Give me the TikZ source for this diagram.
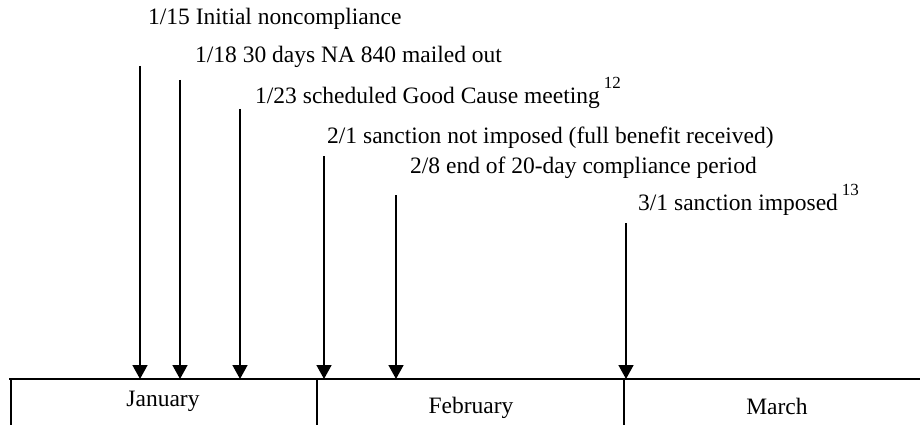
\documentclass[tikz,border=0pt]{standalone}
\usepackage{fontspec}
\setmainfont{Liberation Serif}
\usetikzlibrary{arrows.meta}

\tikzset{
  evt/.style={anchor=base west, inner sep=0pt, font=\fontsize{23.5}{26}\selectfont},
  month/.style={anchor=base, inner sep=0pt, font=\fontsize{23.5}{26}\selectfont},
  tick/.style={line width=1.6pt, -{Triangle[length=14pt,width=15pt]}},
  axis/.style={line width=1.8pt}
}
\newcommand{\fnmark}[1]{\hspace{4pt}\raisebox{15pt}{\fontsize{17}{18}\selectfont #1}}

\begin{document}
\begin{tikzpicture}[x=1pt,y=-1pt]
  \useasboundingbox (0,0) rectangle (920,425);

  % event labels
  \node[evt] (t1) at (148,25)  {1/15 Initial noncompliance};
  \node[evt] (t2) at (195,63)  {1/18 30 days NA 840 mailed out};
  \node[evt] (t3) at (255,103) {1/23 scheduled Good Cause meeting\fnmark{12}};
  \node[evt] (t4) at (327,143) {2/1 sanction not imposed (full benefit received)};
  \node[evt] (t5) at (410,173) {2/8 end of 20-day compliance period};
  \node[evt] (t6) at (638,210) {3/1 sanction imposed\fnmark{13}};

  % time axis and month boundaries
  \coordinate (axL) at (9,379);
  \coordinate (axR) at (920,379);
  \draw[axis] (axL) -- (axR);
  \coordinate (d1t) at (11,378);  \coordinate (d1b) at (11,425);
  \coordinate (d2t) at (317,378); \coordinate (d2b) at (317,425);
  \coordinate (d3t) at (624,378); \coordinate (d3b) at (624,425);
  \draw[axis] (d1t) -- (d1b);
  \draw[axis] (d2t) -- (d2b);
  \draw[axis] (d3t) -- (d3b);

  % month names
  \node[month] (jan) at (163,406) {January};
  \node[month] (feb) at (471,413) {February};
  \node[month] (mar) at (777,414) {March};

  % event markers
  \coordinate (s1) at (140,66);  \coordinate (e1) at (140,379);
  \coordinate (s2) at (180,80);  \coordinate (e2) at (180,379);
  \coordinate (s3) at (240,109); \coordinate (e3) at (240,379);
  \coordinate (s4) at (324,156); \coordinate (e4) at (324,379);
  \coordinate (s5) at (396,195); \coordinate (e5) at (396,379);
  \coordinate (s6) at (626,223); \coordinate (e6) at (626,379);
  \draw[tick] (s1) -- (e1);
  \draw[tick] (s2) -- (e2);
  \draw[tick] (s3) -- (e3);
  \draw[tick] (s4) -- (e4);
  \draw[tick] (s5) -- (e5);
  \draw[tick] (s6) -- (e6);
\end{tikzpicture}
\end{document}
